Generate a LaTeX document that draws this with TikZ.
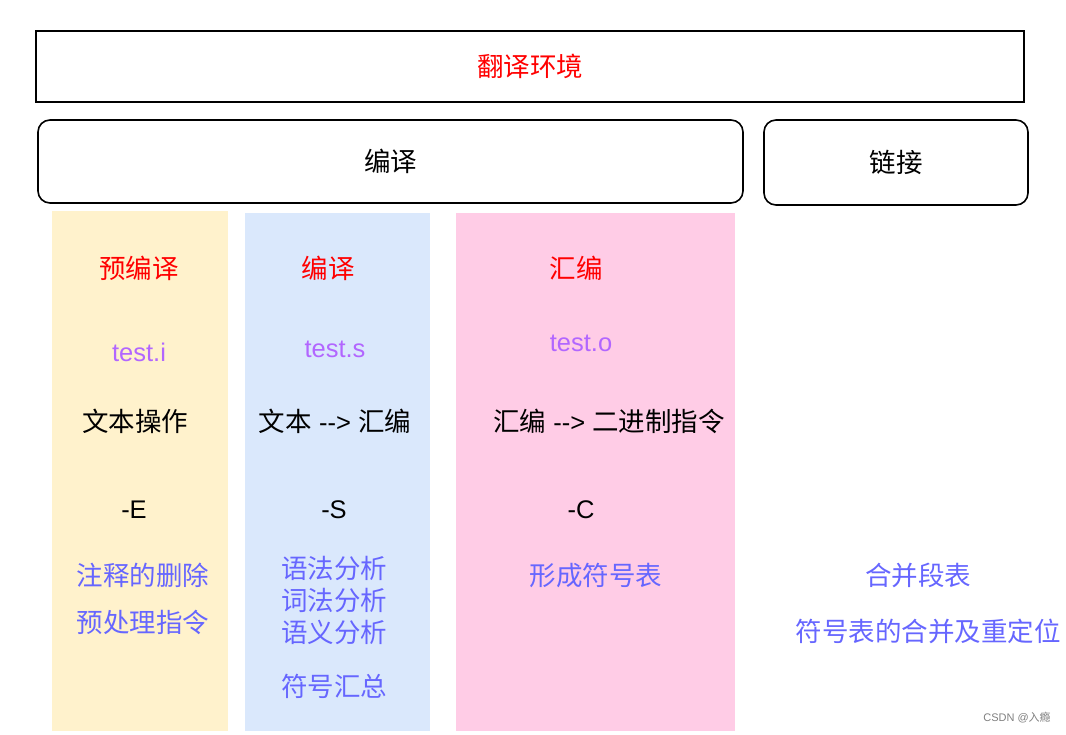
\documentclass[tikz,border=0pt]{standalone}
\usepackage{fontspec}
\setmainfont{Liberation Sans}
\newfontfamily\cjkf{Noto Sans CJK SC}
\newcommand{\cjk}{\cjkf\fontsize{26.5}{30}\selectfont}
\definecolor{cred}{HTML}{FF0000}
\definecolor{cpurple}{HTML}{B266FF}
\definecolor{cblue}{HTML}{6666FF}
\definecolor{cyellow}{HTML}{FFF2CC}
\definecolor{clblue}{HTML}{DAE8FC}
\definecolor{cpink}{HTML}{FFCCE6}
\begin{document}
\begin{tikzpicture}[x=1pt,y=-1pt,
  txt/.style={inner sep=0pt,font=\fontsize{25.5}{30}\selectfont},
  title/.style={txt,text=cred},
  file/.style={txt,text=cpurple},
  note/.style={txt,text=cblue},
  plain/.style={txt,text=black},
  frame/.style={draw=black,line width=1.6pt}]
\useasboundingbox[fill=white] (0,0) rectangle (1066,734);
% columns
\fill[cyellow] (52,211) rectangle (228,731);
\fill[clblue] (245,213) rectangle (430,731);
\fill[cpink] (456,213) rectangle (735,731);
% top boxes
\node[frame,minimum width=988pt,minimum height=71pt,inner sep=0pt] (env) at (530,66.5) {};
\node[title] (envt) at (env.center) {\cjk 翻译环境};
\node[frame,rounded corners=12pt,minimum width=705pt,minimum height=83pt,inner sep=0pt] (comp) at (390.5,161.5) {};
\node[plain] (compt) at (comp.center) {\cjk 编译};
\node[frame,rounded corners=12pt,minimum width=264pt,minimum height=85pt,inner sep=0pt] (link) at (896,162.5) {};
\node[plain] (linkt) at (link.center) {\cjk 链接};
% column 1
\node[title] (t1) at (139,268) {\cjk 预编译};
\node[file] (f1) at (139,352) {test.i};
\node[plain] (d1) at (135,421) {\cjk 文本操作};
\node[plain] (o1) at (134,510) {-E};
\node[note] (n1a) at (143,575) {\cjk 注释的删除};
\node[note] (n1b) at (143,622) {\cjk 预处理指令};
% column 2
\node[title] (t2) at (328,268) {\cjk 编译};
\node[file] (f2) at (335,349) {test.s};
\node[plain] (d2) at (335,421) {{\cjk 文本} -{}-{}> {\cjk 汇编}};
\node[plain] (o2) at (334,510) {-S};
\node[note] (n2a) at (334,568) {\cjk 语法分析};
\node[note] (n2b) at (334,600) {\cjk 词法分析};
\node[note] (n2c) at (334,632) {\cjk 语义分析};
\node[note] (n2d) at (334,686) {\cjk 符号汇总};
% column 3
\node[title] (t3) at (576,268) {\cjk 汇编};
\node[file] (f3) at (581,343) {test.o};
\node[plain] (d3) at (609,421) {{\cjk 汇编} -{}-{}> {\cjk 二进制指令}};
\node[plain] (o3) at (581,510) {-C};
\node[note] (n3a) at (596,575) {\cjk 形成符号表};
% link column
\node[note] (n4a) at (918,575) {\cjk 合并段表};
\node[note] (n4b) at (928,631) {\cjk 符号表的合并及重定位};
% watermark
\node[inner sep=0pt,text=gray,font=\fontsize{11}{13}\selectfont] (wm) at (1017,718) {CSDN @{\cjkf 入瘾}};
\end{tikzpicture}
\end{document}
